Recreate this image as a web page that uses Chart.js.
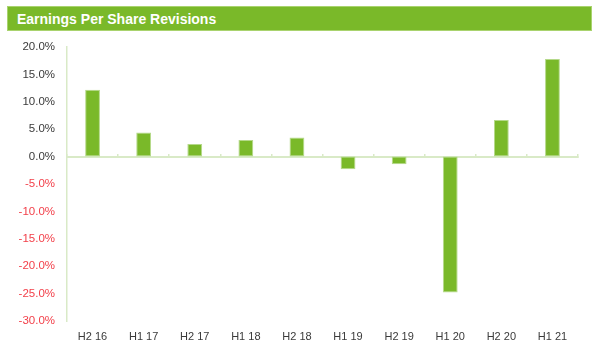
<!DOCTYPE html>
<html>
<head>
<meta charset="utf-8">
<script src="https://cdn.jsdelivr.net/npm/chart.js@4.4.1/dist/chart.umd.min.js"></script>
<style>
  html, body { margin: 0; padding: 0; background: #ffffff; }
  #wrap { position: relative; width: 600px; height: 361px; overflow: hidden; }
  #title {
    position: absolute; left: 7px; top: 6px; width: 574px; height: 23px;
    background: #7ab929; border: 1px solid #a9d36e;
    color: #ffffff; font-family: "Liberation Sans", Arial, sans-serif;
    font-weight: bold; font-size: 14px; line-height: 24px;
    padding-left: 9px; box-sizing: content-box;
  }
  #c { position: absolute; left: 0; top: 0; }
</style>
</head>
<body>
<div id="wrap">
  <canvas id="c" width="600" height="361"></canvas>
  <div id="title">Earnings Per Share Revisions</div>
</div>
<script>
const categories = ["H2 16", "H1 17", "H2 17", "H1 18", "H2 18", "H1 19", "H2 19", "H1 20", "H2 20", "H1 21"];
const epsRevisions = [12.2, 4.4, 2.3, 3.05, 3.5, -2.3, -1.4, -24.8, 6.7, 17.8];
const yMin = -30;
const yMax = 20;
const yStep = 5;

const axisGreen = '#d9eac7';
const barGreen = '#7ab929';
const fontFam = '"Liberation Sans", Arial, Helvetica, sans-serif';

new Chart(document.getElementById('c'), {
  type: 'bar',
  data: {
    labels: categories,
    datasets: [{
      data: epsRevisions,
      backgroundColor: barGreen,
      borderColor: '#b5d98a',
      borderWidth: 1,
      borderSkipped: false,
      barPercentage: 0.29,
      categoryPercentage: 1.0,
      xAxisID: 'x'
    }]
  },
  options: {
    responsive: false,
    animation: false,
    events: [],
    layout: { padding: { top: 47, right: 22, bottom: 0, left: 0 } },
    plugins: { legend: { display: false }, tooltip: { enabled: false }, title: { display: false } },
    scales: {
      x: {
        type: 'category',
        position: 'bottom',
        offset: true,
        grid: { display: false, drawTicks: false },
        border: { display: false },
        ticks: {
          color: '#3a3a3a',
          font: { family: fontFam, size: 11 },
          padding: 9,
          maxRotation: 0,
          autoSkip: false
        },
        afterFit: (s) => { s.height = 40; }
      },
      x0: {
        type: 'category',
        labels: categories,
        position: { y: 0 },
        offset: true,
        grid: {
          offset: true,
          drawOnChartArea: false,
          drawTicks: true,
          tickLength: -4,
          color: axisGreen,
          lineWidth: 1.5
        },
        border: { display: true, color: axisGreen, width: 2 },
        ticks: { display: false }
      },
      y: {
        min: yMin,
        max: yMax,
        grid: { display: false, drawTicks: false },
        border: { display: true, color: axisGreen, width: 1.5 },
        ticks: {
          stepSize: yStep,
          padding: 12,
          font: { family: fontFam, size: 11.5 },
          color: (ctx) => (ctx.tick && ctx.tick.value < 0) ? '#f2404a' : '#3a3a3a',
          callback: (v) => v.toFixed(1) + '%'
        },
        afterFit: (s) => { s.width = 67; }
      }
    }
  }
});
</script>
</body>
</html>
